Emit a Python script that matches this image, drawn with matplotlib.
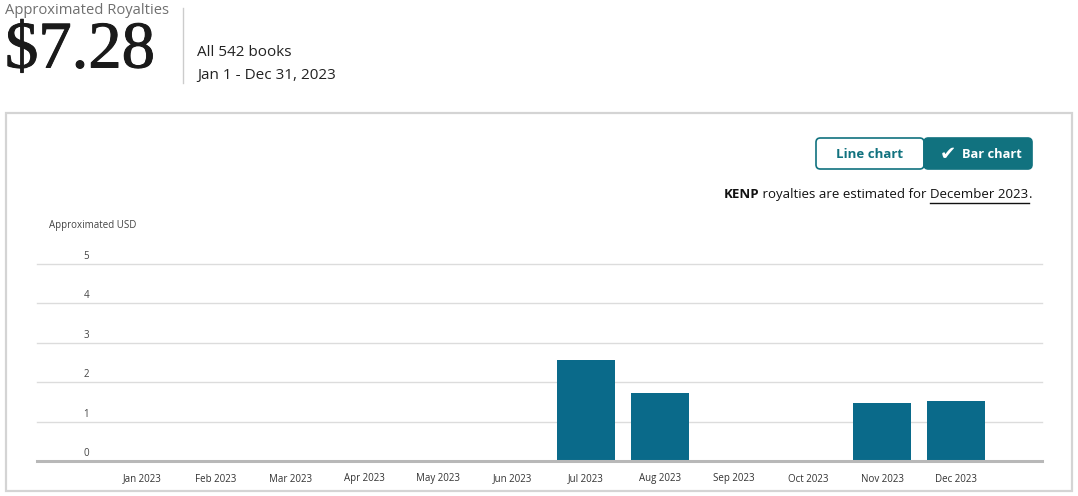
import matplotlib
matplotlib.use("Agg")
import matplotlib.pyplot as plt
import matplotlib.patheffects as pe
from matplotlib.patches import FancyBboxPatch, Rectangle
from matplotlib.lines import Line2D

# --------------------------------------------------------------------------- #
# Data
# --------------------------------------------------------------------------- #
months = ["Jan 2023", "Feb 2023", "Mar 2023", "Apr 2023", "May 2023", "Jun 2023",
          "Jul 2023", "Aug 2023", "Sep 2023", "Oct 2023", "Nov 2023", "Dec 2023"]
royalties = [0, 0, 0, 0, 0, 0, 2.56, 1.73, 0, 0, 1.47, 1.52]
y_ticks = [0, 1, 2, 3, 4, 5]

total_label = "$7.28"
books_label = "All 542 books"
range_label = "Jan 1 - Dec 31, 2023"

W, H = 1078, 496
SANS = ["Open Sans", "DejaVu Sans"]
BAR = "#0a6a8a"
TEAL = "#11727f"

plt.rcParams["font.family"] = SANS

fig = plt.figure(figsize=(W / 100, H / 100), dpi=100)
fig.patch.set_facecolor("white")


def fx(x):
    return x / W


def fy(y):
    return 1 - y / H


# --------------------------------------------------------------------------- #
# Header
# --------------------------------------------------------------------------- #
fig.text(fx(5), fy(11), "Approximated Royalties", fontsize=10.6, color="#6f6f6f",
         ha="left", va="center")
fig.text(fx(5), fy(51), total_label, fontsize=48, color="#1a1a1a",
         family="Liberation Serif", ha="left", va="center",
         path_effects=[pe.withStroke(linewidth=0.7, foreground="#1a1a1a")])
fig.add_artist(Line2D([fx(183), fx(183)], [fy(8), fy(83)], color="#cccccc", lw=1))
fig.text(fx(197), fy(52), books_label, fontsize=11, color="#222222",
         ha="left", va="center")
fig.text(fx(197), fy(76), range_label, fontsize=11, color="#222222",
         ha="left", va="center")

# panel border
fig.add_artist(Rectangle((fx(6), fy(491)), fx(1072) - fx(6), fy(113) - fy(491),
                         transform=fig.transFigure, fill=False,
                         edgecolor="#d4d4d4", lw=1.6))

# --------------------------------------------------------------------------- #
# Toggle buttons
# --------------------------------------------------------------------------- #
def button(x0, x1, y0, y1, face, edge):
    p = FancyBboxPatch((fx(x0), fy(y1)), fx(x1) - fx(x0), fy(y0) - fy(y1),
                       boxstyle="round,pad=0,rounding_size=0.004",
                       transform=fig.transFigure, facecolor=face,
                       edgecolor=edge, lw=1.2, mutation_aspect=W / H)
    fig.add_artist(p)


button(816, 924, 138, 169, "white", TEAL)
button(924, 1032, 138, 169, TEAL, TEAL)
fig.text(fx(870), fy(154), "Line chart", fontsize=9.5, fontweight="bold",
         color=TEAL, ha="center", va="center")
fig.text(fx(948), fy(154), "\u2714", fontsize=14, color="white",
         family="DejaVu Sans", ha="center", va="center")
fig.text(fx(962), fy(154), "Bar chart", fontsize=9.3, fontweight="bold",
         color="white", ha="left", va="center")

# KENP note, built right-to-left so the right edge lines up with the buttons
NOTE_Y = 195
t_dot = fig.text(fx(1032), fy(NOTE_Y), ".", fontsize=9.5, color="#111111",
                 ha="right", va="center")
t_dec = fig.text(0, 0, "December 2023", fontsize=9.5, color="#111111")
t_mid = fig.text(0, 0, " royalties are estimated for ", fontsize=9.5, color="#111111")
t_kenp = fig.text(0, 0, "KENP", fontsize=9.5, fontweight="bold", color="#111111")

fig.canvas.draw()
r = fig.canvas.get_renderer()
x_right = t_dot.get_window_extent(r).x0
for t in (t_dec, t_mid, t_kenp):
    t.set_position((x_right / W, fy(NOTE_Y)))
    t.set_ha("right")
    t.set_va("center")
    x_right -= t.get_window_extent(r).width
    fig.canvas.draw()
bb = t_dec.get_window_extent(r)
fig.add_artist(Line2D([bb.x0 / W, bb.x1 / W], [fy(203), fy(203)],
                      color="#111111", lw=1))

# --------------------------------------------------------------------------- #
# Bar chart
# --------------------------------------------------------------------------- #
ax = fig.add_axes([fx(37), fy(461), fx(1042) - fx(37), fy(264) - fy(461)])
x = list(range(len(months)))
ax.bar(x, royalties, width=0.78, color=BAR, zorder=3)

ax.set_xlim(-1.42, 12.16)
ax.set_ylim(0, 5)
for s in ax.spines.values():
    s.set_visible(False)
for v in y_ticks[1:]:
    ax.axhline(v, color="#dcdcdc", lw=1, zorder=1, clip_on=False)
ax.axhline(0, color="#b8b8b8", lw=2.2, zorder=4, clip_on=False)

ax.set_yticks([])
ax.set_xticks(x)
ax.set_xticklabels(months, fontsize=7, color="#333333")
ax.tick_params(axis="x", length=0, pad=9)

for v in y_ticks:
    ax.annotate(str(v), xy=(0.049, v), xycoords=("axes fraction", "data"),
                xytext=(0, 1.5), textcoords="offset points",
                fontsize=7, color="#444444", ha="center", va="bottom",
                annotation_clip=False)

fig.text(fx(49), fy(226), "Approximated USD", fontsize=7, color="#444444",
         ha="left", va="center")

fig.savefig("out.png", dpi=100, facecolor="white")
